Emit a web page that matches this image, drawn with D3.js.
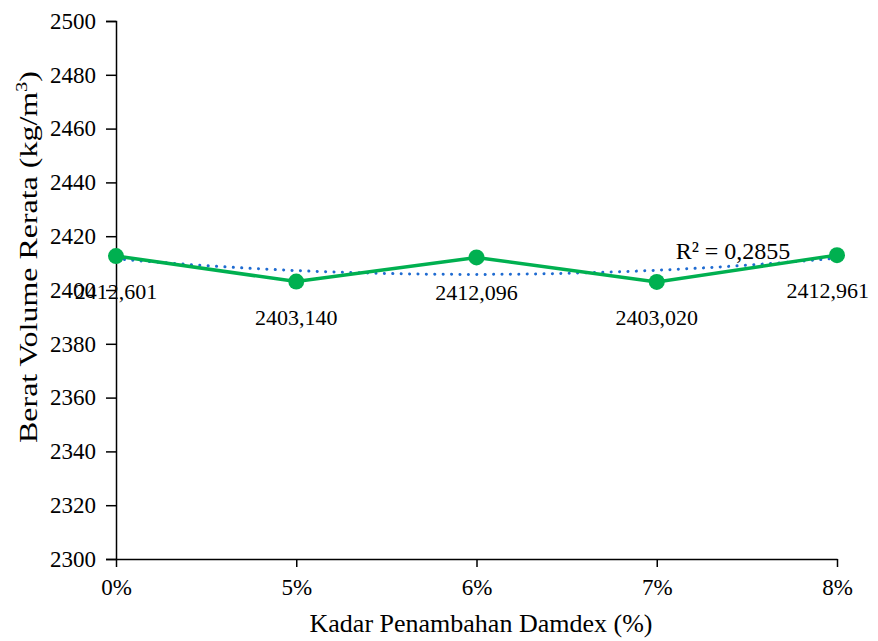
<!DOCTYPE html>
<html>
<head>
<meta charset="utf-8">
<script src="https://cdn.jsdelivr.net/npm/d3@7"></script>
<style>
  body { margin: 0; background: #fff; }
  text { font-family: "Liberation Serif", "Times New Roman", serif; fill: #000; }
</style>
</head>
<body>
<div id="chart"></div>
<script>
// data
const categories = ["0%", "5%", "6%", "7%", "8%"];
const values = [2412.601, 2403.140, 2412.096, 2403.020, 2412.961];
const valueLabels = ["2412,601", "2403,140", "2412,096", "2403,020", "2412,961"];
const yTicks = [2300, 2320, 2340, 2360, 2380, 2400, 2420, 2440, 2460, 2480, 2500];
const r2Label = "R² = 0,2855";

const width = 878, height = 641;
const margin = {top: 21, left: 116, right: 41, bottom: 82};

const svg = d3.select("#chart").append("svg")
    .attr("width", width)
    .attr("height", height);

const x = d3.scalePoint()
    .domain(categories)
    .range([margin.left, width - margin.right]);

const y = d3.scaleLinear()
    .domain([2300, 2500])
    .range([height - margin.bottom, margin.top]);

// y axis
const yAxis = svg.append("g")
    .attr("transform", `translate(${margin.left},0)`)
    .call(d3.axisLeft(y).tickValues(yTicks).tickSize(10).tickPadding(10).tickFormat(d3.format("d")));
yAxis.select(".domain").attr("stroke", "#000").attr("stroke-width", 1.5);
yAxis.selectAll(".tick line").attr("stroke", "#000").attr("stroke-width", 1.5);
yAxis.selectAll(".tick text").style("font-size", "23px");

// x axis
const xAxis = svg.append("g")
    .attr("transform", `translate(0,${height - margin.bottom})`)
    .call(d3.axisBottom(x).tickSize(8).tickSizeOuter(0).tickPadding(12));
xAxis.select(".domain").attr("stroke", "#000").attr("stroke-width", 1.5);
xAxis.selectAll(".tick line").attr("stroke", "#000").attr("stroke-width", 1.5);
xAxis.selectAll(".tick text").style("font-size", "23px");

// polynomial (order 2) trendline, least squares on x = 1..n like Excel
const xs = values.map((_, i) => i + 1);
function quadFit(xv, yv) {
    const n = xv.length;
    let s = [0, 0, 0, 0, 0], t = [0, 0, 0];
    for (let i = 0; i < n; i++) {
        for (let k = 0; k < 5; k++) s[k] += Math.pow(xv[i], k);
        for (let k = 0; k < 3; k++) t[k] += yv[i] * Math.pow(xv[i], k);
    }
    const A = [[s[0], s[1], s[2], t[0]], [s[1], s[2], s[3], t[1]], [s[2], s[3], s[4], t[2]]];
    for (let i = 0; i < 3; i++) {
        for (let j = i + 1; j < 3; j++) {
            const f = A[j][i] / A[i][i];
            for (let k = i; k < 4; k++) A[j][k] -= f * A[i][k];
        }
    }
    const c = [0, 0, 0];
    for (let i = 2; i >= 0; i--) {
        let sum = A[i][3];
        for (let k = i + 1; k < 3; k++) sum -= A[i][k] * c[k];
        c[i] = sum / A[i][i];
    }
    return c;
}
const coef = quadFit(xs, values);
const trendX = d3.range(1, 5.001, 0.05);
const step = x.step();
const trendLine = d3.line()
    .x(d => x(categories[0]) + (d - 1) * step)
    .y(d => y(coef[0] + coef[1] * d + coef[2] * d * d));

svg.append("path")
    .datum(trendX)
    .attr("d", trendLine)
    .attr("fill", "none")
    .attr("stroke", "#1F6BD1")
    .attr("stroke-width", 3)
    .attr("stroke-linecap", "round")
    .attr("stroke-dasharray", "0.1 8.3");

// main series
const line = d3.line()
    .x((d, i) => x(categories[i]))
    .y(d => y(d));

svg.append("path")
    .datum(values)
    .attr("d", line)
    .attr("fill", "none")
    .attr("stroke", "#00B050")
    .attr("stroke-width", 3.5);

svg.selectAll("circle.pt")
    .data(values)
    .enter()
    .append("circle")
    .attr("class", "pt")
    .attr("cx", (d, i) => x(categories[i]))
    .attr("cy", d => y(d))
    .attr("r", 8)
    .attr("fill", "#00B050");

// value labels under the points, kept inside the chart area like Excel
svg.selectAll("text.vlabel")
    .data(values)
    .enter()
    .append("text")
    .attr("class", "vlabel")
    .attr("x", (d, i) => x(categories[i]))
    .attr("y", d => y(d) + 43)
    .attr("text-anchor", "middle")
    .style("font-size", "22px")
    .text((d, i) => valueLabels[i])
    .each(function () {
        const el = d3.select(this);
        const half = this.getComputedTextLength() / 2;
        const cx = +el.attr("x");
        if (cx + half > width - 9) el.attr("x", width - 9 - half);
    });

// R² label
svg.append("text")
    .attr("x", 733)
    .attr("y", 259)
    .attr("text-anchor", "middle")
    .style("font-size", "24px")
    .text(r2Label);

// axis titles
svg.append("text")
    .attr("x", 481)
    .attr("y", 632)
    .attr("text-anchor", "middle")
    .style("font-size", "26px")
    .text("Kadar Penambahan Damdex (%)");

const yTitle = svg.append("text")
    .attr("transform", "translate(37,257) rotate(-90)")
    .attr("text-anchor", "middle")
    .attr("textLength", 372)
    .attr("lengthAdjust", "spacingAndGlyphs")
    .style("font-size", "25px");
yTitle.append("tspan").text("Berat Volume Rerata (kg/m");
yTitle.append("tspan").attr("dy", -10).style("font-size", "16px").text("3");
yTitle.append("tspan").attr("dy", 10).text(")");
</script>
</body>
</html>
